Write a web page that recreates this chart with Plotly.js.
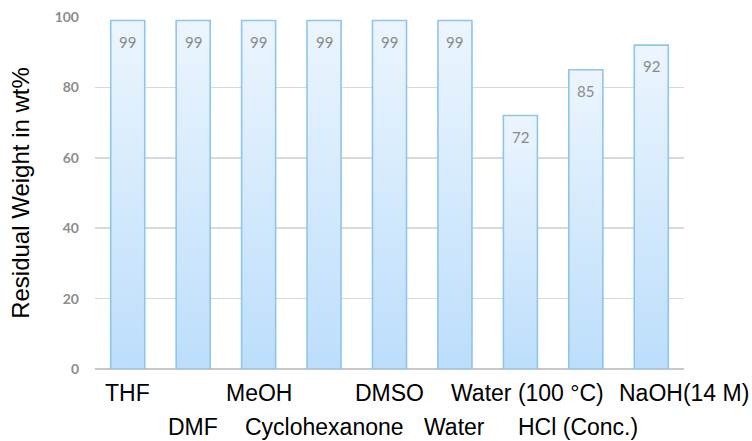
<!DOCTYPE html>
<html><head><meta charset="utf-8">
<script src="https://cdn.plot.ly/plotly-3.0.1.min.js"></script>
<style>body{margin:0;background:#fff}#chart{width:752px;height:441px}</style>
</head><body><div id="chart"></div>
<script>
const categories = ["THF","DMF","MeOH","Cyclohexanone","DMSO","Water","Water (100 °C)","HCl (Conc.)","NaOH(14 M)"];
const residualWeight = [99,99,99,99,99,99,72,85,92];
const yTickVals = [0,20,40,60,80,100];

// small horizontal nudges of some category labels, as in the source figure
const labelShift = {"NaOH(14 M)":33, "HCl (Conc.)":-8, "Water (100 °C)":7};

const trace = {
  type:'bar', x:categories, y:residualWeight,
  width:0.52,
  marker:{color:'#d3e8fc', line:{color:'#8ec5ec', width:1.6}},
  hoverinfo:'skip'
};

const labelFont = {family:'"Liberation Sans", Arial, sans-serif', size:23, color:'#000'};
const annotations = [];
categories.forEach((c,i)=>{
  annotations.push({x:c, y:residualWeight[i], xref:'x', yref:'y', text:String(residualWeight[i]),
    showarrow:false, yanchor:'middle', yshift:-21,
    font:{family:'Lato, "Open Sans", sans-serif', size:15, color:'#8a8a8a'}});
  annotations.push({x:c, y:0, xref:'x', yref:'y', text:c, showarrow:false, yanchor:'middle',
    yshift: i%2===0 ? -24 : -58, xshift: labelShift[c]||0, font:labelFont});
});

const layout = {
  width:752, height:441,
  margin:{l:94.5, r:68, t:16.5, b:72},
  paper_bgcolor:'#fff', plot_bgcolor:'#fff',
  showlegend:false,
  xaxis:{type:'category', range:[-0.5, categories.length-0.5], autorange:false, showticklabels:false,
    showgrid:false, zeroline:false, showline:false, ticks:''},
  yaxis:{range:[0,100], autorange:false, tickmode:'array', tickvals:yTickVals,
    showgrid:true, gridcolor:'#d9d9d9', gridwidth:1.5, zeroline:true, zerolinecolor:'#c8c8c8', zerolinewidth:1.5,
    showline:false, ticks:'', ticklabelstandoff:15,
    tickfont:{family:'Lato, sans-serif', size:14, color:'#8c8c8c', weight:'bold'},
    title:{text:'Residual Weight in wt%', standoff:18, font:{family:'"Liberation Sans", Arial, sans-serif', size:24, color:'#000'}}},
  annotations:annotations
};

Plotly.newPlot('chart',[trace],layout,{displayModeBar:false, staticPlot:true}).then(gd=>{
  const svg = gd.querySelector('svg.main-svg');
  const ns='http://www.w3.org/2000/svg';
  let defs = svg.querySelector('defs');
  const g = document.createElementNS(ns,'linearGradient');
  g.setAttribute('id','barGrad'); g.setAttribute('x1','0'); g.setAttribute('y1','0'); g.setAttribute('x2','0'); g.setAttribute('y2','1');
  [['0','#ecf5fe'],['1','#bcdefb']].forEach(([o,c])=>{
    const s=document.createElementNS(ns,'stop'); s.setAttribute('offset',o); s.setAttribute('stop-color',c); g.appendChild(s);
  });
  defs.appendChild(g);
  gd.querySelectorAll('.bars .point path').forEach(p=>{ p.style.fill='url(#barGrad)'; });
});
</script></body></html>
